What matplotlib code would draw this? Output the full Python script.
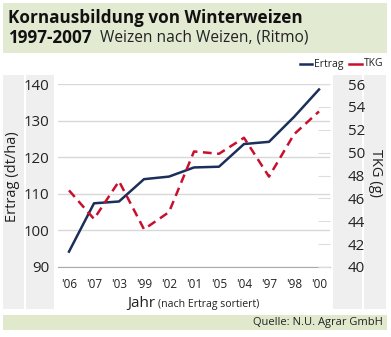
import matplotlib
matplotlib.use("Agg")
import matplotlib.pyplot as plt
from matplotlib.patches import Rectangle

plt.rcParams["font.family"] = ["Open Sans", "DejaVu Sans"]

years = ["'06", "'07", "'03", "'99", "'02", "'01", "'05", "'04", "'97", "'98", "'00"]
ertrag = [94.2, 107.4, 107.9, 114.0, 114.7, 117.2, 117.4, 123.6, 124.2, 131.0, 138.5]
tkg = [46.7, 44.2, 47.5, 43.3, 44.8, 50.1, 49.9, 51.3, 47.9, 51.6, 53.6]
left_ticks = [90, 100, 110, 120, 130, 140]
right_ticks = [40, 42, 44, 46, 48, 50, 52, 54, 56]

W, H = 391, 337
fig = plt.figure(figsize=(W / 100, H / 100), dpi=100)


def fx(px):
    return px / W


def fy(py):
    return 1 - py / H


def box(x0, y0, x1, y1, color):
    fig.add_artist(Rectangle((fx(x0), fy(y1)), fx(x1 - x0), (y1 - y0) / H,
                             transform=fig.transFigure, color=color, lw=0, zorder=0))


# background panels
box(3, 3, 387, 53, "#e3ead2")
box(3, 315, 387, 330, "#e0e9cc")
box(3, 75, 24, 309, "#efefef")
box(26, 75, 54, 309, "#efefef")
box(333, 75, 362, 309, "#efefef")
box(364, 75, 386, 309, "#efefef")

# title
fig.text(fx(8), fy(18), "Kornausbildung von Winterweizen", fontsize=12.3,
         fontweight="bold", va="center", ha="left", color="#111111")
fig.text(fx(8), fy(38), "1997-2007", fontsize=12.3, fontweight="bold",
         va="center", ha="left", color="#111111")
fig.text(fx(100), fy(38), "Weizen nach Weizen, (Ritmo)", fontsize=11.2,
         va="center", ha="left", color="#222222")

ax = fig.add_axes([fx(58), fy(267), fx(330 - 58), (267 - 84) / H])
ax.set_facecolor("none")
x = list(range(len(years)))
ax.plot(x, ertrag, color="#1b2f5a", lw=1.8, clip_on=False, zorder=3)
ax.set_xlim(-0.44, 10.44)
ax.set_ylim(90, 140)
ax.set_yticks(left_ticks)
ax.set_xticks(x)
ax.set_xticklabels(years, fontsize=8.5, color="#222222")
ax.grid(axis="y", color="#d8d8d8", lw=1)
ax.tick_params(axis="y", length=0, pad=6, labelsize=10.8, labelcolor="#222222")
ax.tick_params(axis="x", length=0, pad=8)
for s in ["top", "right", "left"]:
    ax.spines[s].set_visible(False)
ax.spines["bottom"].set_color("#aaaaaa")
ax.set_axisbelow(True)

ax2 = ax.twinx()
ax2.plot(x, tkg, color="#c8102e", lw=1.8, ls=(0, (3.5, 2.2)), clip_on=False, zorder=3)
ax2.set_ylim(40, 56)
ax2.set_yticks(right_ticks)
ax2.tick_params(axis="y", direction="in", length=9, color="#dddddd", pad=13,
                labelsize=10.8, labelcolor="#222222")
for s in ["top", "right", "left", "bottom"]:
    ax2.spines[s].set_visible(False)

# axis labels
fig.text(fx(13), fy(177), "Ertrag (dt/ha)", rotation=90, fontsize=10.5,
         ha="center", va="center", color="#222222")
fig.text(fx(376), fy(173), "TKG (g)", rotation=-90, fontsize=10.5,
         ha="center", va="center", color="#222222")
fig.text(fx(127), fy(303), "Jahr", fontsize=11, ha="left", va="center", color="#222222")
fig.text(fx(158), fy(304), "(nach Ertrag sortiert)", fontsize=7.6, ha="left",
         va="center", color="#222222")

# legend
fig.add_artist(plt.Line2D([fx(300), fx(312)], [fy(64), fy(64)], color="#1b2f5a", lw=1.8))
fig.text(fx(314), fy(64), "Ertrag", fontsize=7.5, va="center", ha="left", color="#222222")
fig.add_artist(plt.Line2D([fx(349), fx(362)], [fy(64), fy(64)], color="#c8102e", lw=1.8))
fig.text(fx(364), fy(64), "TKG", fontsize=7.5, va="center", ha="left", color="#222222")

fig.text(fx(383), fy(322.5), "Quelle: N.U. Agrar GmbH", fontsize=8, ha="right",
         va="center", color="#222222")

fig.savefig("out.png", dpi=100)
